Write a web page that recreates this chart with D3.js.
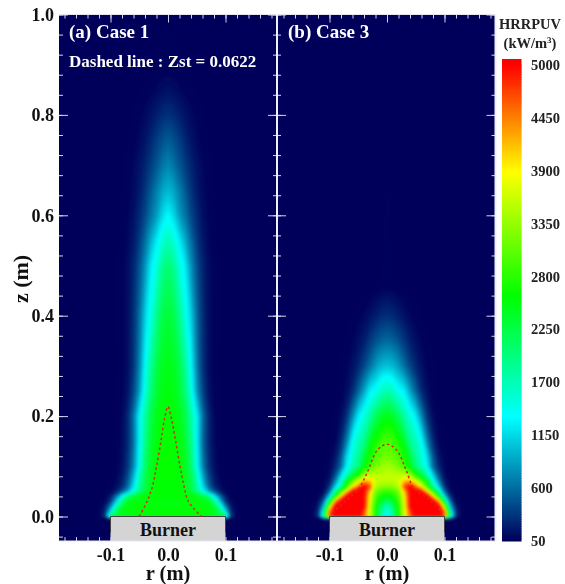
<!DOCTYPE html>
<html><head><meta charset="utf-8">
<script src="https://cdnjs.cloudflare.com/ajax/libs/d3/7.8.5/d3.min.js"></script>
<style>
html,body{margin:0;padding:0;background:#fff}
svg{display:block;filter:blur(0.45px)}
text{font-family:"Liberation Serif","Times New Roman",serif;font-weight:bold}
</style></head><body>
<svg id="c" width="565" height="584"></svg>
<script>
// ---------- data ----------
const rColumns = [0,.01,.02,.03,.04,.05,.06,.07,.08,.09,.10,.11,.12,.13,.14,.19];

const case1Z = [-.006,0,.01,.02,.03,.04,.05,.06,.08,.1,.15,.2,.25,.3,.4,.5,.55,.6,.65,.7,.75,.8,.85,.89,1];
const case1Values = [
 [50],
 [2600,2600,2600,2600,2600,2600,2550,2550,2500,2350,2000,350,70],
 [2600,2600,2600,2600,2600,2600,2550,2550,2450,2200,1200,250,60],
 [2550,2550,2550,2550,2550,2550,2550,2550,2400,1700,750,180,60],
 [2550,2550,2550,2550,2550,2550,2550,2450,1900,1100,350,100,55],
 [2600,2600,2600,2600,2600,2500,2350,2050,1400,700,220,70],
 [2600,2600,2600,2500,2350,1950,1500,950,550,250,80],
 [2600,2600,2600,2500,2250,1800,1200,620,280,120,60],
 [2620,2620,2600,2500,2200,1700,950,450,190,85,55],
 [2650,2620,2600,2450,2100,1400,750,340,140,70],
 [2650,2620,2550,2350,1950,1300,620,270,115,60],
 [2600,2570,2500,2250,1800,1300,650,270,100,55],
 [2560,2500,2350,2000,1500,850,420,170,75,55],
 [2500,2450,2250,1850,1350,720,330,140,70],
 [2350,2250,1900,1500,1100,620,300,140,75,55],
 [2050,1900,1500,1250,800,480,250,130,75,55],
 [1700,1550,1250,950,620,360,190,105,65],
 [1350,1150,850,650,430,270,150,85,60],
 [1000,900,700,510,330,200,115,75,55],
 [750,650,500,370,250,160,100,70,55],
 [530,470,370,260,170,110,75,55],
 [310,280,220,160,110,80,60],
 [150,130,100,75,60],
 [70,65,58],
 [50]
];

const case3Z = [-.006,0,.01,.02,.03,.04,.05,.06,.07,.08,.1,.12,.15,.2,.25,.3,.35,.4,.45,.47,1];
const case3Values = [
 [50],
 [1300,1800,2700,3700,4600,5200,5300,5300,5300,5200,4700,1800,300,80],
 [1400,1900,2700,3700,4700,5300,5300,5300,5300,5200,4500,1500,280,70],
 [1650,2050,2750,3700,5000,5300,5300,5300,5300,5200,3500,1000,200,60],
 [2100,2350,2900,3800,5000,5300,5300,5300,5200,4300,2200,600,120],
 [2500,2650,3000,3900,5000,5300,5300,5200,4100,2700,1200,300,70],
 [2850,2950,3200,4100,5100,5200,5000,4000,2900,1800,600,130],
 [3300,3350,3500,4700,5050,4500,3800,2800,1800,1100,350,70],
 [3550,3550,3650,4200,4300,3700,3200,2500,1500,750,200,55],
 [3600,3600,3600,3700,3500,2900,2400,1800,1200,500,140],
 [3450,3350,3200,2900,2500,2000,1700,1300,600,260,90],
 [3200,3100,2950,2700,2300,1850,1550,1150,480,170,65],
 [3000,2900,2700,2400,1900,1700,1400,720,280,90,55],
 [2500,2400,2150,1800,1500,1250,750,320,120,60],
 [1750,1650,1400,1280,900,560,280,130,70],
 [1050,1000,850,620,420,260,150,85,60],
 [600,560,470,340,220,140,85,60],
 [300,270,210,150,100,70,55],
 [100,90,70,55],
 [60,55],
 [50]
];

const case1Dash = [[-.05,0],[-.036,.031],[-.027,.06],[-.02,.1],[-.012,.152],[-.006,.195],[0,.219],[.006,.195],[.013,.152],[.021,.1],[.028,.06],[.035,.031],[.058,0]];
const case3Dash = [[-.095,.008],[-.07,.033],[-.049,.056],[-.035,.086],[-.017,.132],[0,.144],[.017,.132],[.032,.096],[.047,.056],[.07,.036],[.093,.012]];

const legendTicks = [5000,4450,3900,3350,2800,2250,1700,1150,600,50];
const colorStops = [50,1330,2590,3880,5000];
const colorValues = ["#00005a","#00ffff","#00ff00","#ffff00","#ff0000"];
const zMajor = [0,.2,.4,.6,.8,1];
const rMajor = [-.1,0,.1];
const panelLabels = ["(a) Case 1","(b) Case 3"];

// ---------- scales ----------
const svg = d3.select("#c");
const color = d3.scaleLinear().domain(colorStops).range(colorValues).clamp(true);
const z = d3.scaleLinear().domain([0,1]).range([516.5,14.5]);
const zBottom = 541;
const panels = [
 {id:"p1",x0:59,x1:277,r:d3.scaleLinear().domain([-.1,.1]).range([110.5,225.5]),zs:case1Z,vals:case1Values,dash:case1Dash,label:panelLabels[0],lx:69},
 {id:"p2",x0:277,x1:495.5,r:d3.scaleLinear().domain([-.1,.1]).range([329.5,444.5]),zs:case3Z,vals:case3Values,dash:case3Dash,label:panelLabels[1],lx:288}
];
const zMinor = d3.range(-1,26).map(i=>i*.04).filter(v=>v<=1.0001&&z(v)<zBottom);

const defs = svg.append("defs");
const fullR = rColumns.slice(1).reverse().map(v=>-v).concat(rColumns);
const thresholds = d3.range(55,5300,40);

panels.forEach(p=>{
  defs.append("clipPath").attr("id","clip-"+p.id).append("rect")
    .attr("x",p.x0).attr("y",14).attr("width",p.x1-p.x0).attr("height",zBottom-14);
  svg.append("rect").attr("x",p.x0).attr("y",14).attr("width",p.x1-p.x0).attr("height",zBottom-14).attr("fill","#00005a");

  const n = fullR.length, m = p.zs.length;
  const grid = [];
  p.vals.forEach(row=>{
    const half = rColumns.map((_,i)=>row[i]===undefined?50:row[i]);
    const mirrored = half.slice(1).reverse().concat(half);
    grid.push(...mirrored);
  });
  const colIdx = d3.scaleLinear().domain(d3.range(n)).range(fullR).clamp(true);
  const rowIdx = d3.scaleLinear().domain(d3.range(m)).range(p.zs).clamp(true);
  const proj = d3.geoTransform({point(x,y){
    this.stream.point(p.r(colIdx(x-.5)), z(rowIdx(y-.5)));
  }});
  const path = d3.geoPath(proj);
  const contours = d3.contours().size([n,m]).thresholds(thresholds)(grid);
  svg.append("g").attr("clip-path",`url(#clip-${p.id})`)
    .append("g").style("filter","blur(1.6px)")
    .selectAll("path").data(contours).join("path")
    .attr("d",path).attr("fill",d=>color(d.value));

  // burner
  const bx0=p.r(-.1), bx1=p.r(.1), by=z(0);
  svg.append("rect").attr("x",bx0).attr("y",by).attr("width",bx1-bx0).attr("height",zBottom-by).attr("fill","#d4d4d4");
  svg.append("path").attr("d",`M${bx0},${by+16}V${by}H${bx1}V${by+16}`).attr("fill","none").attr("stroke","#444").attr("stroke-width",1);
  svg.append("text").attr("x",(bx0+bx1)/2).attr("y",by+19).attr("text-anchor","middle").attr("font-size",18).attr("fill","#111").text("Burner");

  // dashed line
  svg.append("path").attr("d",d3.line().curve(d3.curveCatmullRom).x(d=>p.r(d[0])).y(d=>z(d[1]))(p.dash))
    .attr("fill","none").attr("stroke","#d8281c").attr("stroke-width",1.5).attr("stroke-dasharray","2.4 2.6");

  // ticks (drawn inward, all four sides)
  const tickCol="#d4d4ec";
  const rMinor=d3.range(-10,11).map(i=>i*.02).filter(v=>p.r(v)>p.x0+1&&p.r(v)<p.x1-1);
  const mk=(axis,tx,ty,sz,vals)=>{
    const g=svg.append("g").attr("transform",`translate(${tx},${ty})`)
      .call(axis.tickValues(vals).tickSize(sz).tickSizeOuter(0).tickFormat(""));
    g.select(".domain").remove();
    g.selectAll("line").attr("stroke",tickCol).attr("stroke-width",1);
    return g;
  };
  mk(d3.axisLeft(z),p.x0,0,-4,zMinor); mk(d3.axisLeft(z),p.x0,0,-9,zMajor);
  mk(d3.axisRight(z),p.x1,0,-4,zMinor); mk(d3.axisRight(z),p.x1,0,-9,zMajor);
  mk(d3.axisTop(p.r),0,14.5,-4,rMinor); mk(d3.axisTop(p.r),0,14.5,-8,rMajor);
  mk(d3.axisBottom(p.r),0,zBottom,-4,rMinor);

  // frame: top and bottom edges
  svg.append("path").attr("d",`M${p.x0},14.5H${p.x1}M${p.x0},${zBottom}H${p.x1}`)
    .attr("fill","none").attr("stroke","#e4e4f4").attr("stroke-width",1);

  // x axis labels
  const xa=svg.append("g").attr("transform",`translate(0,${zBottom})`)
    .call(d3.axisBottom(p.r).tickValues(rMajor).tickSize(0).tickPadding(7).tickFormat(d3.format(".1f")));
  xa.select(".domain").remove();
  xa.selectAll("text").attr("font-size",18).attr("font-family",'"Liberation Serif",serif').attr("font-weight","bold").attr("fill","#111").text(d=>d===0?"0.0":(d<0?"-0.1":"0.1"));
  svg.append("text").attr("x",p.r(0)).attr("y",579.5).attr("text-anchor","middle").attr("font-size",20.5).attr("fill","#111").text("r (m)");

  svg.append("text").attr("x",p.lx).attr("y",38).attr("font-size",19).attr("fill","#fff").text(p.label);
});

svg.append("path").attr("d",`M277,14V${zBottom}M495.5,14V${zBottom}`).attr("stroke","#f0f0fa").attr("stroke-width",2);
svg.append("text").attr("x",69).attr("y",67).attr("font-size",17).attr("fill","#fff").text("Dashed line : Zst = 0.0622");

// y axis
const ya=svg.append("g").attr("transform","translate(59,0)")
  .call(d3.axisLeft(z).tickValues(zMajor).tickSize(0).tickPadding(5).tickFormat(d3.format(".1f")));
ya.select(".domain").remove();
ya.selectAll("text").attr("font-size",18).attr("font-family",'"Liberation Serif",serif').attr("font-weight","bold").attr("fill","#111");
svg.append("text").attr("transform","translate(28,279) rotate(-90)").attr("text-anchor","middle").attr("font-size",22).attr("fill","#111").text("z (m)");

// colour bar
const legendY=d3.scaleLinear().domain([50,5000]).range([541,65]);
const slices=d3.range(50,5000,25);
svg.append("g").selectAll("rect").data(slices).join("rect")
  .attr("x",502).attr("width",19.5).attr("y",d=>legendY(d+25)-.5).attr("height",d=>legendY(d)-legendY(d+25)+1)
  .attr("fill",d=>color(d));
svg.append("rect").attr("x",502).attr("y",59).attr("width",19.5).attr("height",6.5).attr("fill",color(5000));
svg.append("g").selectAll("text").data(legendTicks).join("text")
  .attr("x",531).attr("y",d=>legendY(d)+5).attr("font-size",14.5).attr("fill","#222").text(d=>d);
svg.append("text").attr("x",530).attr("y",29).attr("text-anchor","middle").attr("font-size",14.5).attr("fill","#222").text("HRRPUV");
const u=svg.append("text").attr("x",530).attr("y",48).attr("text-anchor","middle").attr("font-size",14.5).attr("fill","#222");
u.append("tspan").text("(kW/m");
u.append("tspan").attr("font-size",9).attr("dy",-5).text("3");
u.append("tspan").attr("dy",5).text(")");
</script>
</body></html>
